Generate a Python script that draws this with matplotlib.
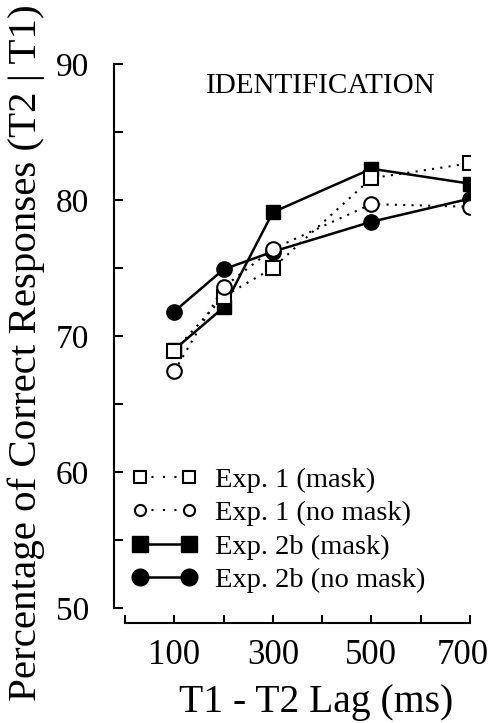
import matplotlib
matplotlib.use("Agg")
import matplotlib.pyplot as plt
import matplotlib.transforms as mtransforms
from matplotlib.lines import Line2D

plt.rcParams["font.family"] = ["Liberation Serif", "DejaVu Serif"]

lags = [100, 200, 300, 500, 700]
exp1_mask = [68.9, 72.9, 75.0, 81.6, 82.7]
exp1_nomask = [67.4, 73.6, 76.4, 79.7, 79.5]
exp2b_mask = [69.0, 72.1, 79.1, 82.3, 81.2]
exp2b_nomask = [71.8, 74.9, 76.2, 78.4, 80.1]

labels = ["Exp. 1 (mask)", "Exp. 1 (no mask)", "Exp. 2b (mask)", "Exp. 2b (no mask)"]
x_ticks = [0, 100, 200, 300, 400, 500, 600, 700]
x_labels = ["", "100", "", "300", "", "500", "", "700"]
y_major = [50, 60, 70, 80, 90]
y_minor = [55, 65, 75, 85]

DOT = (0, (1, 3))
LEGEND_DOT = (0, (1, 4.5))

fig = plt.figure(figsize=(4.91, 7.23), dpi=100)
ax = fig.add_axes([125 / 491, 1 - 608 / 723, 345 / 491, 544 / 723])

# filled series first so the open markers sit on top (as in the original)
ax.plot(lags, exp2b_mask, color="black", lw=1.8, marker="s", ms=10, mfc="black", mec="black", zorder=2)
ax.plot(lags, exp2b_nomask, color="black", lw=1.8, marker="o", ms=11, mfc="black", mec="black", zorder=2)
ax.plot(lags, exp1_mask, color="black", lw=1.5, ls=DOT, marker="s", ms=9.5, mfc="white", mec="black", mew=1.5, zorder=3)
ax.plot(lags, exp1_nomask, color="black", lw=1.5, ls=DOT, marker="o", ms=10.5, mfc="white", mec="black", mew=1.5, zorder=3)

ax.set_xlim(0, 700)
ax.set_ylim(50, 90)
for side in ("top", "right"):
    ax.spines[side].set_visible(False)
ax.spines["left"].set_position(("outward", 8))
ax.spines["bottom"].set_position(("outward", 11))
for side in ("left", "bottom"):
    ax.spines[side].set_linewidth(1.5)

ax.set_xticks(x_ticks)
ax.set_xticklabels(x_labels)
ax.set_yticks(y_major)
ax.set_yticks(y_minor, minor=True)
ax.tick_params(axis="x", direction="in", length=6, width=1.5, pad=11, labelsize=25)
ax.tick_params(axis="y", which="both", direction="in", length=6.5, width=1.5, pad=18, labelsize=24)

# nudge the last x label left a little so it stays inside the figure
shift = mtransforms.ScaledTranslation(-5 / 72, 0, fig.dpi_scale_trans)
last = ax.get_xticklabels()[-1]
last.set_transform(last.get_transform() + shift)

fig.text(316 / 491, 1 - 712 / 723, "T1 - T2 Lag (ms)", ha="center", va="baseline", fontsize=28.5)
fig.text(26 / 491, 1 - 353 / 723, "Percentage of Correct Responses (T2 | T1)", rotation=90,
         ha="center", va="center", fontsize=29.5)

ax.text(0.568, 0.96, "IDENTIFICATION", transform=ax.transAxes, ha="center", va="center", fontsize=21)

handles = [
    Line2D([], [], color="black", lw=1.5, ls=LEGEND_DOT, marker="s", ms=8, mfc="white", mec="black", mew=1.5),
    Line2D([], [], color="black", lw=1.5, ls=LEGEND_DOT, marker="o", ms=8, mfc="white", mec="black", mew=1.5),
    Line2D([], [], color="black", lw=1.8, marker="s", ms=11.5, mfc="black", mec="black"),
    Line2D([], [], color="black", lw=1.8, marker="o", ms=12, mfc="black", mec="black"),
]
fig.legend(handles, labels, loc="upper left", bbox_to_anchor=(131.5 / 491, 1 - 467 / 723),
           frameon=False, fontsize=20.5, numpoints=2, handlelength=2.32, handletextpad=0.61,
           borderpad=0, borderaxespad=0, labelspacing=0.26)

fig.savefig("out.png", dpi=100)
